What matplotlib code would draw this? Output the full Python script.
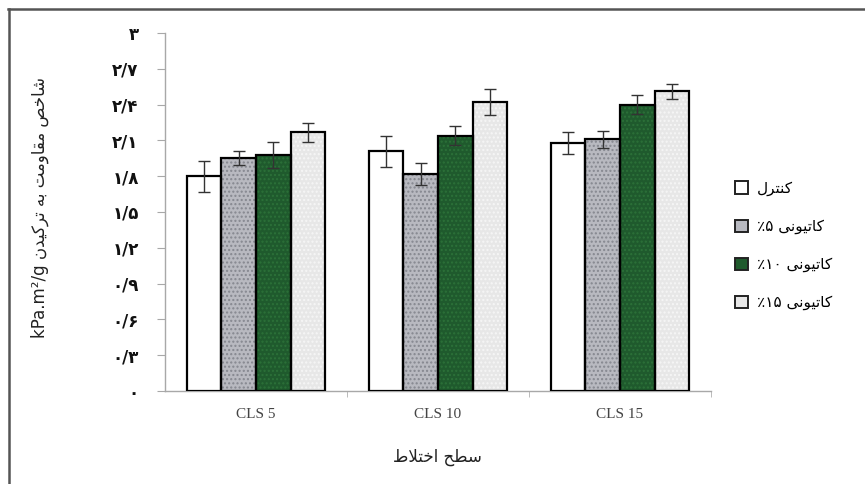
import matplotlib
matplotlib.use("Agg")
import matplotlib.pyplot as plt
import numpy as np
from matplotlib.patches import Patch
from matplotlib.lines import Line2D

# ---------------- data ----------------
categories = ["CLS 5", "CLS 10", "CLS 15"]
series_names = ["کنترل", "کاتیونی ۵٪", "کاتیونی ۱۰٪", "کاتیونی ۱۵٪"]
control = [1.80, 2.01, 2.08]
cat5 = [1.95, 1.82, 2.11]
cat10 = [1.98, 2.14, 2.40]
cat15 = [2.17, 2.42, 2.51]
err_control = [0.13, 0.13, 0.09]
err_cat5 = [0.06, 0.09, 0.07]
err_cat10 = [0.11, 0.08, 0.08]
err_cat15 = [0.08, 0.11, 0.06]
yticks = [0, 0.3, 0.6, 0.9, 1.2, 1.5, 1.8, 2.1, 2.4, 2.7, 3.0]
ytick_labels = ["۰", "۰/۳", "۰/۶", "۰/۹", "۱/۲", "۱/۵", "۱/۸", "۲/۱", "۲/۴", "۲/۷", "۳"]
ylabel_text = "شاخص مقاومت به ترکیدن kPa.m²/g"
xlabel_text = "سطح اختلاط"

# ------------- minimal Persian shaping (visual order) -------------
FORMS = {
    'ا': ('\uFE8D', '\uFE8E', None, None),
    'ب': ('\uFE8F', '\uFE90', '\uFE91', '\uFE92'),
    'ت': ('\uFE95', '\uFE96', '\uFE97', '\uFE98'),
    'ح': ('\uFEA1', '\uFEA2', '\uFEA3', '\uFEA4'),
    'خ': ('\uFEA5', '\uFEA6', '\uFEA7', '\uFEA8'),
    'د': ('\uFEA9', '\uFEAA', None, None),
    'ر': ('\uFEAD', '\uFEAE', None, None),
    'س': ('\uFEB1', '\uFEB2', '\uFEB3', '\uFEB4'),
    'ش': ('\uFEB5', '\uFEB6', '\uFEB7', '\uFEB8'),
    'ص': ('\uFEB9', '\uFEBA', '\uFEBB', '\uFEBC'),
    'ط': ('\uFEC1', '\uFEC2', '\uFEC3', '\uFEC4'),
    'ق': ('\uFED5', '\uFED6', '\uFED7', '\uFED8'),
    'ل': ('\uFEDD', '\uFEDE', '\uFEDF', '\uFEE0'),
    'م': ('\uFEE1', '\uFEE2', '\uFEE3', '\uFEE4'),
    'ن': ('\uFEE5', '\uFEE6', '\uFEE7', '\uFEE8'),
    'ه': ('\uFEE9', '\uFEEA', '\uFEEB', '\uFEEC'),
    'و': ('\uFEED', '\uFEEE', None, None),
    'ک': ('\uFB8E', '\uFB8F', '\uFB90', '\uFB91'),
    'ی': ('\uFBFC', '\uFBFD', '\uFBFE', '\uFBFF'),
    '\uFEFB': ('\uFEFB', '\uFEFC', None, None),
}


def shape_word(w):
    w = w.replace('لا', '\uFEFB')
    out = []
    n = len(w)
    for i, ch in enumerate(w):
        if ch not in FORMS:
            out.append(ch)
            continue
        iso, fin, ini, med = FORMS[ch]
        prev_join = i > 0 and w[i - 1] in FORMS and FORMS[w[i - 1]][2] is not None
        next_join = ini is not None and i < n - 1 and w[i + 1] in FORMS
        if prev_join and next_join:
            out.append(med)
        elif prev_join:
            out.append(fin)
        elif next_join:
            out.append(ini)
        else:
            out.append(iso)
    return ''.join(out)


def visual(text):
    toks = []
    for w in text.split(' '):
        if '٪' in w:
            toks.append('٪' + w.replace('٪', ''))
        elif any(c in FORMS or c == 'ل' for c in w):
            toks.append(shape_word(w)[::-1])
        else:
            toks.append(w)
    return ' '.join(toks[::-1])


# ---------------- figure ----------------
W, H = 865, 484
fig = plt.figure(figsize=(W / 100, H / 100), dpi=100)
fig.patch.set_facecolor('white')
ax = fig.add_axes([165 / W, 1 - 391 / H, (711 - 165) / W, (391 - 33) / H])

x = np.arange(len(categories))
bw = 0.19
offsets = [-1.5 * bw, -0.5 * bw, 0.5 * bw, 1.5 * bw]
vals = [control, cat5, cat10, cat15]
errs = [err_control, err_cat5, err_cat10, err_cat15]
faces = ['#ffffff', '#b8b9c0', '#1f5a2d', '#e7e7e7']
hatch_cols = [None, '#85878f', '#2c7139', '#f6f6f6']
hatches = [None, '....', '....', '....']

for v, e, off, fc, hc, ht in zip(vals, errs, offsets, faces, hatch_cols, hatches):
    ax.bar(x + off, v, bw, color=fc, edgecolor=hc if hc else fc, hatch=ht,
           linewidth=0, zorder=2)
    ax.bar(x + off, v, bw, facecolor='none', edgecolor='black', linewidth=1.6, zorder=3)
    ax.errorbar(x + off, v, yerr=e, fmt='none', ecolor='#333333', elinewidth=1.0,
                capsize=4.5, capthick=1.0, zorder=4)

ax.set_xlim(-0.5, 2.5)
ax.set_ylim(0, 3)
ax.set_yticks(yticks)
ax.set_yticklabels(ytick_labels, fontfamily='DejaVu Sans', fontweight='bold', fontsize=12,
                   color='#111111')
ax.set_xticks(x)
ax.set_xticklabels(categories, fontfamily='Liberation Serif', fontsize=11, color='#444444')
ax.tick_params(axis='y', length=6, width=0.8, color='#a8a8a8', pad=13)
ax.tick_params(axis='x', length=0, pad=12)
ax.set_xticks([0.5, 1.5, 2.5], minor=True)
ax.tick_params(axis='x', which='minor', length=4, direction='out', color='#b0b0b0')
for s in ['top', 'right']:
    ax.spines[s].set_visible(False)
for s in ['left', 'bottom']:
    ax.spines[s].set_color('#a8a8a8')
    ax.spines[s].set_linewidth(1.0)

# labels
fig.text(437 / W, 1 - 457 / H, visual(xlabel_text), ha='center', va='center',
         fontfamily='DejaVu Sans', fontsize=12, color='#222222')
fig.text(40 / W, 1 - 207 / H, visual(ylabel_text), ha='center', va='center',
         rotation=90, fontfamily='DejaVu Sans', fontsize=12, color='#222222')

# legend
handles = [Patch(facecolor=fc, edgecolor='#222222', linewidth=1.4) for fc in faces]
leg = fig.legend(handles, [visual(s) for s in series_names], loc='upper left',
                 bbox_to_anchor=(721 / W, 1 - 167 / H), frameon=False,
                 handlelength=0.85, handleheight=0.85, handletextpad=0.6,
                 labelspacing=1.5, prop={'family': 'DejaVu Sans', 'size': 11})

# outer frame (top & left)
fig.add_artist(Line2D([8 / W, 1], [1 - 9 / H, 1 - 9 / H], transform=fig.transFigure,
                      color='#555555', linewidth=1.8))
fig.add_artist(Line2D([9 / W, 9 / W], [0, 1 - 9 / H], transform=fig.transFigure,
                      color='#555555', linewidth=1.8))

fig.savefig('out.png', dpi=100)
